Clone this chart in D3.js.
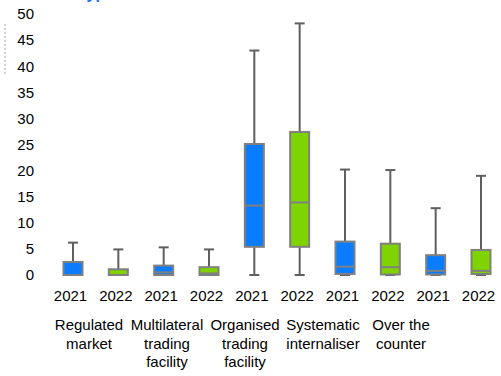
<!DOCTYPE html>
<html>
<head>
<meta charset="utf-8">
<script src="https://cdn.jsdelivr.net/npm/d3@7"></script>
<style>
  body { margin: 0; background: #fff; }
  svg { display: block; font-family: "Liberation Sans", Arial, sans-serif; }
</style>
</head>
<body>
<svg width="501" height="376"></svg>
<script>
const categories = [
    ["Regulated", "market"],
    ["Multilateral", "trading", "facility"],
    ["Organised", "trading", "facility"],
    ["Systematic", "internaliser"],
    ["Over the", "counter"]
];
const years = ["2021", "2022"];

// one entry per box: cat0-2021, cat0-2022, cat1-2021 ...
const mins    = [0,   0,   0,   0,   0,    0,    0,    0,    0,    0];
const q1s     = [0,   0,   0,   0,   5.4,  5.4,  0.2,  0.1,  0.1,  0.2];
const medians = [0,   0,   0.5, 0.3, 13.3, 13.9, 1.6,  1.5,  0.8,  0.8];
const q3s     = [2.5, 1.1, 1.8, 1.5, 25.1, 27.4, 6.4,  6.0,  3.8,  4.8];
const maxs    = [6.2, 4.9, 5.3, 4.9, 43,   48.2, 20.2, 20.1, 12.8, 19.0];

const yTicks = d3.range(0, 55, 5);

const boxes = mins.map((m, i) => ({
    idx: i,
    year: years[i % 2],
    min: m, q1: q1s[i], med: medians[i], q3: q3s[i], max: maxs[i]
}));

const svg = d3.select('svg');
const colors = {"2021": "#0a7dff", "2022": "#7ed300"};

const xScale = d3.scalePoint()
    .domain(boxes.map(d => d.idx))
    .range([73, 481]);

const yScale = d3.scaleLinear()
    .domain([0, 50])
    .range([275, 14]);

//cut off title at the top
svg.append('text')
    .text('Type')
    .attr('x', 78).attr('y', -1)
    .attr('fill', '#1a6cff')
    .attr('font-size', 16).attr('font-weight', 700);

//dashed remnant on the left edge
svg.append('line')
    .attr('x1', 5).attr('x2', 5)
    .attr('y1', 24).attr('y2', 75)
    .attr('stroke', '#aaa').attr('stroke-width', 1)
    .attr('stroke-dasharray', '2,2');

//Y axis
const gY = svg.append('g')
    .attr('transform', 'translate(40,0)')
    .call(d3.axisLeft(yScale).tickValues(yTicks).tickSize(0).tickPadding(6));
gY.select('.domain').remove();
gY.selectAll('text')
    .attr('font-size', 15).attr('fill', '#000')
    .attr('font-family', '"Liberation Sans", Arial, sans-serif');

//X axis (years)
const gX = svg.append('g')
    .attr('transform', 'translate(-3,284)')
    .call(d3.axisBottom(xScale).tickSize(0).tickPadding(6).tickFormat(i => boxes[i].year));
gX.select('.domain').remove();
gX.selectAll('text')
    .attr('font-size', 15).attr('fill', '#000')
    .attr('font-family', '"Liberation Sans", Arial, sans-serif');

//category labels
const catScale = d3.scaleBand()
    .domain(d3.range(categories.length))
    .range([50, 440]);

const catG = svg.append('g');
categories.forEach((lines, c) => {
    const t = catG.append('text')
        .attr('x', catScale(c) + catScale.bandwidth() / 2)
        .attr('y', 330)
        .attr('text-anchor', 'middle')
        .attr('font-size', 15).attr('fill', '#000');
    lines.forEach((ln, k) => {
        t.append('tspan')
            .attr('x', catScale(c) + catScale.bandwidth() / 2)
            .attr('dy', k === 0 ? 0 : 18.5)
            .text(ln);
    });
});

//boxes
const boxW = 19, capW = 10;
const bg = svg.selectAll('g.box')
    .data(boxes)
    .enter()
    .append('g')
    .attr('class', 'box');

bg.append('line')
    .attr('x1', d => xScale(d.idx)).attr('x2', d => xScale(d.idx))
    .attr('y1', d => yScale(d.min)).attr('y2', d => yScale(d.max))
    .attr('stroke', '#5f5f5f').attr('stroke-width', 2);

bg.append('line')
    .attr('x1', d => xScale(d.idx) - capW / 2).attr('x2', d => xScale(d.idx) + capW / 2)
    .attr('y1', d => yScale(d.max)).attr('y2', d => yScale(d.max))
    .attr('stroke', '#5f5f5f').attr('stroke-width', 2);

bg.append('line')
    .attr('x1', d => xScale(d.idx) - capW / 2).attr('x2', d => xScale(d.idx) + capW / 2)
    .attr('y1', d => yScale(d.min)).attr('y2', d => yScale(d.min))
    .attr('stroke', '#5f5f5f').attr('stroke-width', 2);

bg.append('rect')
    .attr('x', d => xScale(d.idx) - boxW / 2)
    .attr('width', boxW)
    .attr('y', d => yScale(d.q3))
    .attr('height', d => yScale(d.q1) - yScale(d.q3))
    .attr('fill', d => colors[d.year])
    .attr('stroke', '#808080').attr('stroke-width', 2);

bg.append('line')
    .attr('x1', d => xScale(d.idx) - boxW / 2).attr('x2', d => xScale(d.idx) + boxW / 2)
    .attr('y1', d => yScale(d.med)).attr('y2', d => yScale(d.med))
    .attr('stroke', '#808080').attr('stroke-width', 2);
</script>
</body>
</html>
